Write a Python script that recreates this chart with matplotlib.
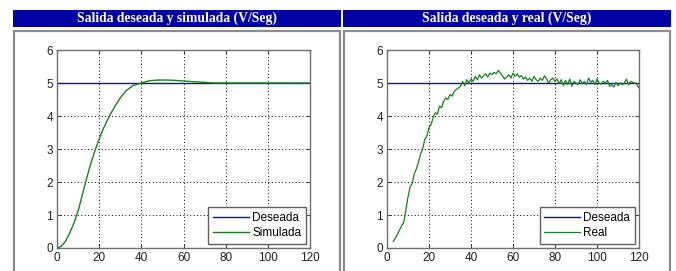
import matplotlib
matplotlib.use("Agg")
import matplotlib.pyplot as plt
from matplotlib.patches import Rectangle

# ---- data ----
titles = ["Salida deseada y simulada (V/Seg)", "Salida deseada y real (V/Seg)"]
legend_left = ["Deseada", "Simulada"]
legend_right = ["Deseada", "Real"]
x_ticks = [0, 20, 40, 60, 80, 100, 120]
y_ticks = [0, 1, 2, 3, 4, 5, 6]

desired_t = [0, 120]
desired_v = [5, 5]

sim_t = [0, 2, 4, 6, 8, 10, 12, 14, 16, 18, 20, 22, 25, 28, 30, 33, 36, 40,
         44, 48, 52, 56, 60, 65, 70, 72, 75, 120]
sim_v = [0, 0.05, 0.2, 0.45, 0.75, 1.12, 1.6, 2.1, 2.55, 2.95, 3.3, 3.62, 4.02,
         4.35, 4.55, 4.78, 4.92, 5.0, 5.07, 5.09, 5.09, 5.08, 5.06, 5.04, 5.02,
         5.01, 5.0, 5.0]

real_t = list(range(3, 121))
real_v = [0.2, 0.3, 0.42, 0.55, 0.68, 0.78, 1.15, 1.55, 1.85, 1.95,
          2.25, 2.4, 2.6, 2.85, 3.0, 3.3, 3.4, 3.65, 3.75, 3.95,
          4.1, 4.05, 4.3, 4.25, 4.45, 4.55, 4.5, 4.65, 4.6, 4.75,
          4.8, 4.85, 4.9, 5.05, 4.92, 5.1, 5.0, 5.12, 5.05, 5.2,
          5.1, 5.25, 5.15, 5.22, 5.28, 5.18, 5.3, 5.25, 5.32, 5.28,
          5.38, 5.3, 5.22, 5.12, 5.18, 5.25, 5.15, 5.3, 5.2, 5.28,
          5.18, 5.22, 5.12, 5.18, 5.08, 5.15, 5.05, 5.2, 5.1, 5.05,
          5.15, 5.08, 5.22, 5.12, 5.0, 5.1, 5.15, 5.05, 5.12, 4.98,
          5.1, 4.92, 5.08, 4.95, 5.12, 4.9, 5.05, 5.0, 4.95, 5.1,
          4.98, 5.05, 4.95, 5.15, 5.02, 5.08, 4.95, 5.12, 5.0, 4.96,
          5.05, 5.0, 5.08, 4.9, 4.95, 4.88, 5.02, 4.92, 5.0, 4.95,
          5.0, 5.12, 4.95, 5.05, 5.02, 5.0, 4.95, 4.85]

# ---- layout ----
W, H = 676, 271
fig = plt.figure(figsize=(W / 100, H / 100), dpi=100)
fig.patch.set_facecolor("white")

def fx(px):
    return px / W

def fy(py):
    return 1 - py / H

BLUE_HDR = "#0000a0"
DES_COL = "#1010a8"
GRN = "#1a801a"

panels = [
    dict(hdr=(13, 341), box=(13.5, 340), ax=(57, 310)),
    dict(hdr=(343, 671), box=(344, 670), ax=(387, 639)),
]

for i, p in enumerate(panels):
    h0, h1 = p["hdr"]
    fig.patches.append(Rectangle((fx(h0), fy(27)), fx(h1 - h0), 17 / H,
                                 transform=fig.transFigure, facecolor=BLUE_HDR,
                                 edgecolor="none", zorder=-2))
    fig.text(fx((h0 + h1) / 2), fy(18.5), titles[i], color="white",
             ha="center", va="center", fontsize=9.8, fontweight="bold",
             family="Liberation Serif")
    b0, b1 = p["box"]
    fig.patches.append(Rectangle((fx(b0), fy(275)), fx(b1 - b0), (275 - 31) / H,
                                 transform=fig.transFigure, facecolor="white",
                                 edgecolor="#8c8c8c", linewidth=1.6, zorder=-2))

for i, p in enumerate(panels):
    a0, a1 = p["ax"]
    ax = fig.add_axes([fx(a0), fy(248), fx(a1 - a0), (248 - 50) / H])
    ax.set_zorder(1)
    ax.plot(desired_t, desired_v, color=DES_COL, lw=1.0,
            label=(legend_left if i == 0 else legend_right)[0])
    if i == 0:
        ax.plot(sim_t, sim_v, color=GRN, lw=1.0, label=legend_left[1])
    else:
        ax.plot(real_t, real_v, color=GRN, lw=0.9, label=legend_right[1])
    ax.set_xlim(0, 120)
    ax.set_ylim(0, 6)
    ax.set_xticks(x_ticks)
    ax.set_yticks(y_ticks)
    ax.grid(True, color="black", linestyle=(0, (1, 2.5)), linewidth=0.7)
    ax.tick_params(direction="in", length=3, top=True, right=True,
                   labelsize=8.5, colors="#404040", labelcolor="#202020", pad=3)
    for lab in ax.get_xticklabels() + ax.get_yticklabels():
        lab.set_family("Liberation Sans")
    for s in ax.spines.values():
        s.set_color("#707070")
        s.set_linewidth(1.0)
    leg = ax.legend(loc="lower right", fancybox=False, framealpha=1,
                    edgecolor="#606060", handlelength=3.0, borderaxespad=0.35,
                    prop={"family": "Liberation Sans", "size": 8.5},
                    borderpad=0.4, labelspacing=0.28, handletextpad=0.3)
    leg.get_frame().set_linewidth(1.0)

fig.savefig("out.png", dpi=100)
